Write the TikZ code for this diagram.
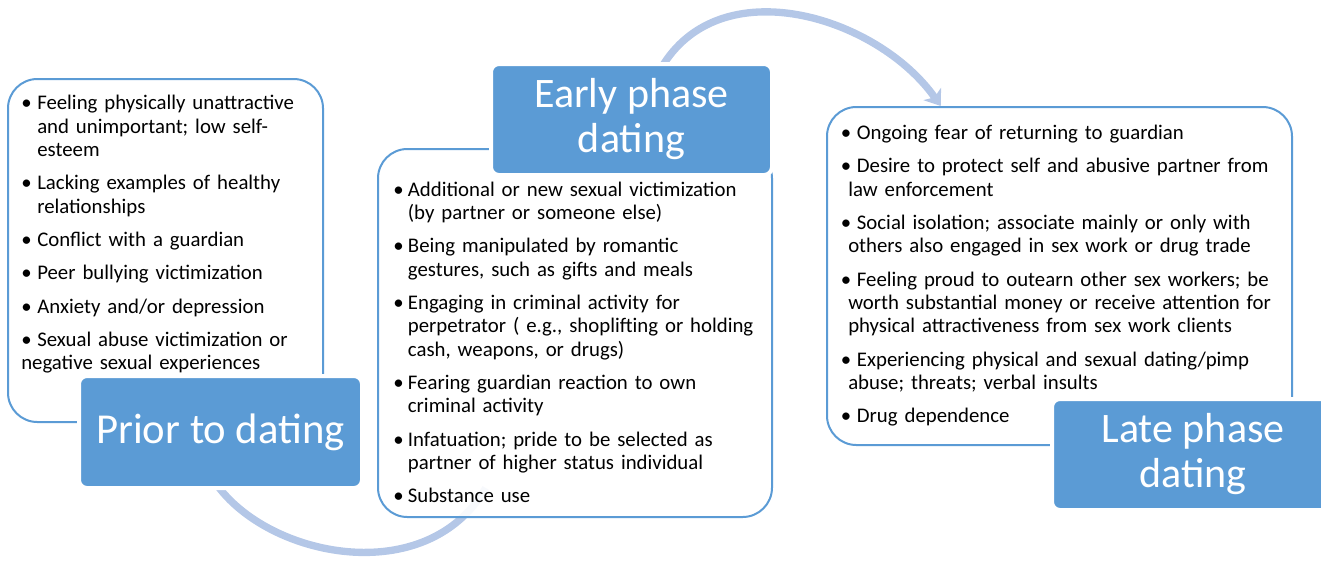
\documentclass[tikz,border=0pt]{standalone}
\usepackage{fontspec}
\setmainfont{Carlito}
\usetikzlibrary{positioning,arrows.meta}

\definecolor{boxblue}{RGB}{91,155,213}
\definecolor{arcblue}{RGB}{180,199,231}

\newlength\blab
\newlength\bhang
\newcommand{\bitem}[1]{\par\hangindent=\bhang\hangafter=1\noindent\makebox[\blab][l]{\textbullet}#1}
\newcommand{\blist}[2]{\setlength\blab{#1}\setlength\bhang{#2}\setlength\parskip{7.5pt}}

\pgfdeclarelayer{back}
\pgfsetlayers{back,main}

\begin{document}
\begin{tikzpicture}
[x=0.75pt,y=-0.75pt,
 listbox/.style={draw=boxblue,line width=1.5pt,fill=white,fill opacity=0.9,rounded corners=22pt},
 phase/.style={fill=boxblue,draw=white,line width=3pt,rounded corners=6pt,text=white,align=center,inner sep=0pt},
 listtext/.style={inner sep=0pt,align=left,text width=#1,font=\fontsize{15.6}{17.5}\selectfont},
 flow/.style={draw=arcblue,line width=5.5pt},
]
\useasboundingbox (0,0) rectangle (1321,562);

% list boxes
\node[listbox,minimum width=236.25pt,minimum height=257.25pt] (priorbox) at (165.5,250.5) {};
\node[listbox,minimum width=295.5pt,minimum height=276pt] (earlybox) at (575,333) {};
\node[listbox,minimum width=348.75pt,minimum height=253.5pt] (latebox) at (1059.5,276) {};

% lists
\node[listtext=225pt,below right=-1.45pt and 10.5pt of priorbox.north west,
      execute at begin node={\blist{12pt}{12pt}}] (priortxt) {%
\bitem{Feeling physically unattractive\newline and unimportant; low self-\newline esteem}
\bitem{Lacking examples of healthy\newline relationships}
\bitem{Conflict with a guardian}
\bitem{Peer bullying victimization}
\bitem{Anxiety and/or depression}
\bitem{Sexual abuse victimization or\newline negative sexual experiences}};

\node[listtext=280pt,below right=11pt and 12pt of earlybox.north west,
      execute at begin node={\blist{11pt}{11pt}}] (earlytxt) {%
\bitem{Additional or new sexual victimization\newline (by partner or someone else)}
\bitem{Being manipulated by romantic\newline gestures, such as gifts and meals}
\bitem{Engaging in criminal activity for\newline perpetrator ( e.g., shoplifting or holding\newline cash, weapons, or drugs)}
\bitem{Fearing guardian reaction to own\newline criminal activity}
\bitem{Infatuation; pride to be selected as\newline partner of higher status individual}
\bitem{Substance use}};

\node[listtext=340pt,below right=-0.2pt and 11pt of latebox.north west,
      execute at begin node={\blist{12pt}{5.5pt}}] (latetxt) {%
\bitem{Ongoing fear of returning to guardian}
\bitem{Desire to protect self and abusive partner from\newline law enforcement}
\bitem{Social isolation; associate mainly or only with\newline others also engaged in sex work or drug trade}
\bitem{Feeling proud to outearn other sex workers; be\newline worth substantial money or receive attention for\newline physical attractiveness from sex work clients}
\bitem{Experiencing physical and sexual dating/pimp\newline abuse; threats; verbal insults}
\bitem{Drug dependence}};

% phase labels
\node[phase,minimum width=212.25pt,minimum height=84pt,font=\fontsize{32}{38}\selectfont] (priorlbl) at (220.5,432) {Prior to dating};
\node[phase,minimum width=210.75pt,minimum height=83.25pt,font=\fontsize{31.5}{33.75}\selectfont] (earlylbl) at (631.5,119.5) {Early phase\\dating};
\node[phase,minimum width=211.5pt,minimum height=83.25pt,font=\fontsize{31.5}{33.75}\selectfont] (latelbl) at (1193,454.5) {Late phase\\dating};

% arcs behind
\begin{pgfonlayer}{back}
\draw[flow,shorten <=-6pt,shorten >=-26pt] (priorlbl.south) to[out=-55,in=240,looseness=0.85] (earlybox);
\draw[flow,shorten <=-6pt,-{Stealth[length=11pt,width=16pt,inset=3pt]}] (earlylbl) to[out=60,in=125] (latebox);
\end{pgfonlayer}
\end{tikzpicture}
\end{document}
